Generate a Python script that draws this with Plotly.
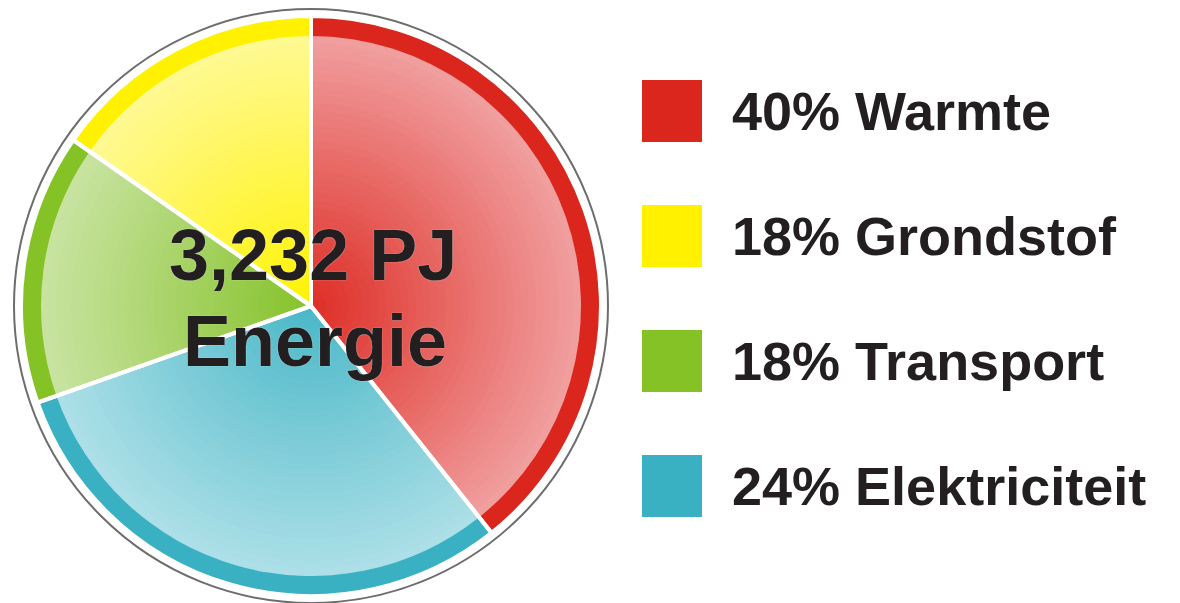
import plotly.graph_objects as go

W, H = 1180, 603

# ---- data ----
categories = ["Warmte", "Elektriciteit", "Transport", "Grondstof"]
slice_share = [39.3, 30.3, 15.1, 15.3]          # shares as drawn in the picture (clockwise from 12 o'clock)
legend_labels = ["40% Warmte", "18% Grondstof", "18% Transport", "24% Elektriciteit"]
legend_keys = ["Warmte", "Grondstof", "Transport", "Elektriciteit"]
center_line1 = "3,232 PJ"
center_line2 = "Energie"

# ---- styles ----
band_colors = {"Warmte": "#db261d", "Elektriciteit": "#3ab1c3",
               "Transport": "#84c225", "Grondstof": "#fff100"}
inner_rgb = {"Warmte": (222, 44, 36), "Elektriciteit": (72, 183, 199),
             "Transport": (132, 194, 40), "Grondstof": (255, 242, 0)}
outer_rgb = {"Warmte": (240, 158, 158), "Elektriciteit": (172, 223, 231),
             "Transport": (200, 227, 160), "Grondstof": (255, 249, 145)}

CX, CY = 311, 306
R_GRAY, R_BAND, R_FILL = 297, 290, 270
TEXT = "#231f20"
FONT = "Liberation Sans, Arial, sans-serif"


def dom(r):
    return dict(x=[(CX - r) / W, (CX + r) / W],
                y=[(H - CY - r) / H, (H - CY + r) / H])


def mix(a, b, t):
    return "rgb(%d,%d,%d)" % tuple(round(a[i] + (b[i] - a[i]) * t) for i in range(3))


common = dict(sort=False, direction="clockwise", rotation=0, textinfo="none",
              hoverinfo="label", showlegend=False)

fig = go.Figure()

# outer thin gray ring
fig.add_trace(go.Pie(values=[1], labels=["ring"], domain=dom(R_GRAY),
                     marker=dict(colors=["white"], line=dict(color="#6d6d6d", width=2)),
                     **common))

# solid colour band
fig.add_trace(go.Pie(values=slice_share, labels=categories, domain=dom(R_BAND),
                     marker=dict(colors=[band_colors[c] for c in categories], line=dict(width=0)),
                     **common))

# radial gradient fill built from concentric layers
N = 36
for k in range(N):
    r = R_FILL * (1 - k / N)
    t = r / R_FILL
    cols = [mix(inner_rgb[c], outer_rgb[c], t) for c in categories]
    fig.add_trace(go.Pie(values=slice_share, labels=categories, domain=dom(r),
                         marker=dict(colors=cols, line=dict(width=0)), **common))

# white separators
fig.add_trace(go.Pie(values=slice_share, labels=categories, domain=dom(R_BAND),
                     marker=dict(colors=["rgba(0,0,0,0)"] * len(categories),
                                 line=dict(color="white", width=4)),
                     **common))

shapes, annotations = [], []
glow = "0px 0px 1px #ffffff"

annotations.append(dict(text=center_line1, x=313 / W, y=1 - 255 / H, xref="paper", yref="paper",
                        xanchor="center", yanchor="middle", showarrow=False,
                        font=dict(family=FONT, size=72, color=TEXT, weight="bold", shadow=glow)))
annotations.append(dict(text=center_line2, x=315 / W, y=1 - 341 / H, xref="paper", yref="paper",
                        xanchor="center", yanchor="middle", showarrow=False,
                        font=dict(family=FONT, size=72, color=TEXT, weight="bold", shadow=glow)))

# legend
SQ_X0, SQ_X1, SQ_H = 642, 702, 62
row_centers = [111, 236, 361, 486]
for lab, key, yc in zip(legend_labels, legend_keys, row_centers):
    shapes.append(dict(type="rect", xref="paper", yref="paper",
                       x0=SQ_X0 / W, x1=SQ_X1 / W,
                       y0=1 - (yc + SQ_H / 2) / H, y1=1 - (yc - SQ_H / 2) / H,
                       fillcolor=band_colors[key], line=dict(width=0)))
    annotations.append(dict(text=lab, x=730 / W, y=1 - yc / H, xref="paper", yref="paper",
                            xanchor="left", yanchor="middle", showarrow=False,
                            font=dict(family=FONT, size=54, color=TEXT, weight="bold")))

fig.update_layout(width=W, height=H, margin=dict(l=0, r=0, t=0, b=0),
                  paper_bgcolor="white", plot_bgcolor="white",
                  shapes=shapes, annotations=annotations)

fig.write_html("out.html", config={"displayModeBar": False},
               post_script="document.body.style.margin='0';document.body.style.overflow='hidden';")
